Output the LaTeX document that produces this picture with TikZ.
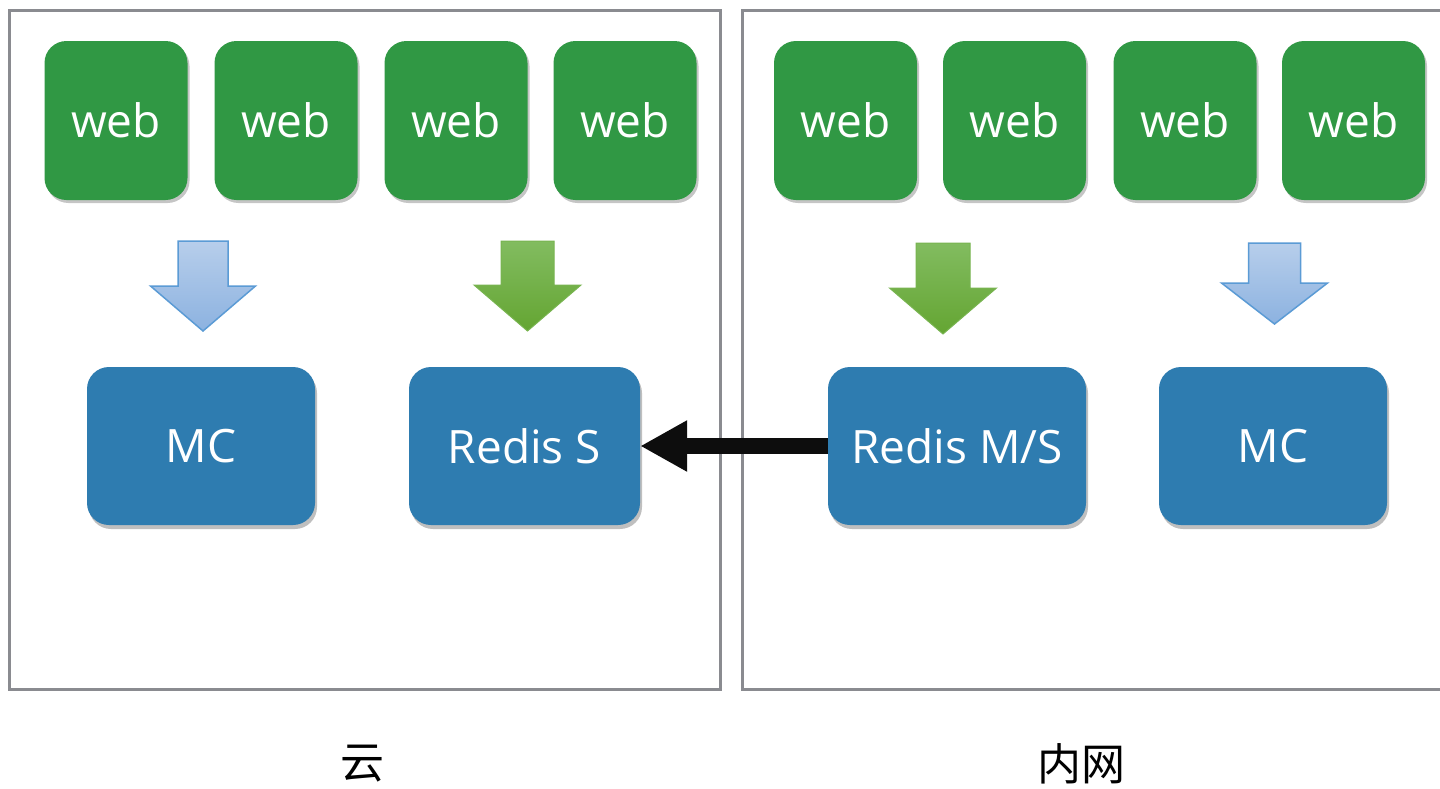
\documentclass[tikz,border=0pt]{standalone}
\usepackage{fontspec}
\setmainfont{Open Sans}
\newfontfamily\cjk{Noto Sans CJK SC}
\usetikzlibrary{arrows.meta,shadows}
\definecolor{webgreen}{RGB}{48,152,68}
\definecolor{boxblue}{RGB}{46,124,176}
\definecolor{framegray}{RGB}{138,139,144}
\definecolor{arrblueA}{RGB}{183,206,235}
\definecolor{arrblueB}{RGB}{140,178,224}
\definecolor{arrblueE}{RGB}{91,155,213}
\definecolor{arrgreenA}{RGB}{130,188,96}
\definecolor{arrgreenB}{RGB}{100,165,50}
\definecolor{arrgreenE}{RGB}{120,180,80}
\tikzset{
  frame/.style={draw=framegray,line width=3pt},
  webbox/.style={fill=webgreen,rounded corners=22pt,minimum width=143pt,minimum height=159pt,
    text=white,font=\fontsize{46}{52}\selectfont,inner sep=0pt,
    drop shadow={shadow xshift=2pt,shadow yshift=-3pt,opacity=0.45}},
  srvbox/.style={fill=boxblue,rounded corners=22pt,minimum height=158pt,
    text=white,font=\fontsize{46}{52}\selectfont,inner sep=0pt,
    drop shadow={shadow xshift=2pt,shadow yshift=-4pt,opacity=0.5}},
  bluearrow/.style={draw=arrblueE,line width=1.5pt,top color=arrblueA,bottom color=arrblueB,line join=miter},
  greenarrow/.style={draw=arrgreenE,line width=1pt,top color=arrgreenA,bottom color=arrgreenB,line join=miter},
  link/.style={draw=black!95,line width=16pt,-{Triangle[length=47pt,width=48pt]}},
  zonelabel/.style={font=\cjk\fontsize{44}{50}\selectfont,text=black},
}
% #1 style, #2 centre x, #3 half shaft, #4 half head, #5 top y, #6 head y, #7 tip y
\newcommand\blockarrow[7]{%
  \path[#1] (#2-#3,#5) -- (#2-#3,#6) -- (#2-#4,#6) -- (#2,#7) -- (#2+#4,#6) -- (#2+#3,#6) -- (#2+#3,#5) -- cycle;}
\begin{document}
\begin{tikzpicture}[x=1pt,y=-1pt]
\useasboundingbox (0,0) rectangle (1440,788);
\fill[white] (0,0) rectangle (1440,788);
\clip (0,0) rectangle (1440,788);
% frames
\draw[frame] (9.5,10.5) rectangle (720.5,689.5);
\draw[frame] (742.5,10.5) rectangle (1450,689.5);
% web boxes
\node[webbox] (w1) at (116,120.5) {web};
\node[webbox] (w2) at (286,120.5) {web};
\node[webbox] (w3) at (456,120.5) {web};
\node[webbox] (w4) at (625,120.5) {web};
\node[webbox] (w5) at (845.5,120.5) {web};
\node[webbox] (w6) at (1014.5,120.5) {web};
\node[webbox] (w7) at (1185,120.5) {web};
\node[webbox] (w8) at (1353.5,120.5) {web};
% server boxes
\node[srvbox,minimum width=228pt] (mc1) at (201,446) {MC};
\node[srvbox,minimum width=231pt] (rs) at (524.5,446) {Redis S};
\node[srvbox,minimum width=258pt] (rms) at (957,446) {Redis M/S};
\node[srvbox,minimum width=228pt] (mc2) at (1273,446) {MC};
% block arrows
\blockarrow{bluearrow}{203}{25}{52.5}{241}{286}{331}
\blockarrow{greenarrow}{527.5}{26.5}{53.5}{241}{285}{331}
\blockarrow{greenarrow}{943}{27}{53.5}{243}{288}{334}
\blockarrow{bluearrow}{1274.5}{26}{53}{243}{283}{324}
% replication link
\draw[link] (rms.west) -- (rs.east);
% zone labels
\node[zonelabel] (zc) at (362,764) {云};
\node[zonelabel] (zn) at (1081,764) {内网};
\end{tikzpicture}
\end{document}
